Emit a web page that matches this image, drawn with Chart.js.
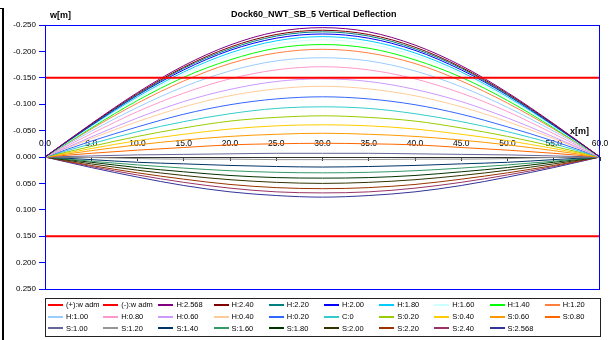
<!DOCTYPE html>
<html>
<head>
<meta charset="utf-8">
<script src="https://cdn.jsdelivr.net/npm/chart.js@4.4.1/dist/chart.umd.min.js"></script>
<style>
    body { margin: 0; background: #fff; }
    #wrap { position: relative; width: 609px; height: 340px; overflow: hidden; font-family: Arial, "Liberation Sans", sans-serif; }
    #frame { position: absolute; left: -10px; top: 8px; width: 12px; height: 340px; border-top: 1px solid #000; border-right: 2px solid #000; }
    .txt { position: absolute; font-weight: bold; font-size: 9px; color: #000; white-space: nowrap; }
    #legend { position: absolute; left: 45px; top: 298px; width: 556px; height: 39px; box-sizing: border-box;
              border: 1px solid #222; padding: 0 0 0 2px; display: grid;
              grid-template-columns: repeat(10, 55.2px); grid-auto-rows: 11.8px; }
    #legend .item { display: flex; align-items: center; font-size: 7.5px; color: #000; white-space: nowrap; }
    #legend .swatch { display: inline-block; width: 15px; height: 2px; margin-right: 3px; }
</style>
</head>
<body>
<div id="wrap">
    <canvas id="deflection-chart" width="609" height="340"></canvas>
    <div id="frame"></div>
    <div class="txt" style="left:231px; top:9px;">Dock60_NWT_SB_5 Vertical Deflection</div>
    <div class="txt" style="left:50px; top:10px;">w[m]</div>
    <div class="txt" style="left:570px; top:126px;">x[m]</div>
    <div id="legend"></div>
</div>
<script>
// Positions along the dock [m]
const xPositions = [0, 5, 10, 15, 20, 25, 30, 35, 40, 45, 50, 55, 60];
const admX = [0, 60];

// Admissible deflection lines
const wAdmPlus = [0.15, 0.15];
const wAdmMinus = [-0.15, -0.15];

// Deflection w[m] per load case (negative = upward in the plot)
const h2568 = [0, -0.063, -0.122, -0.173, -0.212, -0.237, -0.245, -0.237, -0.212, -0.173, -0.122, -0.063, 0];
const h240  = [0, -0.062, -0.120, -0.170, -0.208, -0.232, -0.240, -0.232, -0.208, -0.170, -0.120, -0.062, 0];
const h220  = [0, -0.061, -0.118, -0.168, -0.205, -0.229, -0.237, -0.229, -0.205, -0.168, -0.118, -0.061, 0];
const h200  = [0, -0.060, -0.117, -0.165, -0.202, -0.225, -0.233, -0.225, -0.202, -0.165, -0.117, -0.060, 0];
const h180  = [0, -0.059, -0.114, -0.161, -0.197, -0.220, -0.228, -0.220, -0.197, -0.161, -0.114, -0.059, 0];
const h160  = [0, -0.057, -0.111, -0.157, -0.192, -0.214, -0.222, -0.214, -0.192, -0.157, -0.111, -0.057, 0];
const h140  = [0, -0.055, -0.107, -0.151, -0.184, -0.206, -0.213, -0.206, -0.184, -0.151, -0.107, -0.055, 0];
const h120  = [0, -0.053, -0.102, -0.144, -0.177, -0.197, -0.204, -0.197, -0.177, -0.144, -0.102, -0.053, 0];
const h100  = [0, -0.049, -0.094, -0.133, -0.163, -0.182, -0.188, -0.182, -0.163, -0.133, -0.094, -0.049, 0];
const h080  = [0, -0.044, -0.086, -0.121, -0.148, -0.165, -0.171, -0.165, -0.148, -0.121, -0.086, -0.044, 0];
const h060  = [0, -0.038, -0.074, -0.105, -0.128, -0.143, -0.148, -0.143, -0.128, -0.105, -0.074, -0.038, 0];
const h040  = [0, -0.035, -0.067, -0.095, -0.116, -0.129, -0.134, -0.129, -0.116, -0.095, -0.067, -0.035, 0];
const h020  = [0, -0.030, -0.057, -0.081, -0.099, -0.110, -0.114, -0.110, -0.099, -0.081, -0.057, -0.030, 0];
const c0    = [0, -0.025, -0.048, -0.067, -0.082, -0.092, -0.095, -0.092, -0.082, -0.067, -0.048, -0.025, 0];
const s020  = [0, -0.020, -0.039, -0.055, -0.068, -0.075, -0.078, -0.075, -0.068, -0.055, -0.039, -0.020, 0];
const s040  = [0, -0.016, -0.031, -0.043, -0.053, -0.059, -0.061, -0.059, -0.053, -0.043, -0.031, -0.016, 0];
const s060  = [0, -0.012, -0.023, -0.032, -0.039, -0.043, -0.045, -0.043, -0.039, -0.032, -0.023, -0.012, 0];
const s080  = [0, -0.007, -0.013, -0.018, -0.023, -0.025, -0.026, -0.025, -0.023, -0.018, -0.013, -0.007, 0];
const s100  = [0, -0.002, -0.004, -0.005, -0.006, -0.007, -0.007, -0.007, -0.006, -0.005, -0.004, -0.002, 0];
const s120  = [0, 0.001, 0.003, 0.004, 0.004, 0.005, 0.005, 0.005, 0.004, 0.004, 0.003, 0.001, 0];
const s140  = [0, 0.005, 0.010, 0.013, 0.016, 0.018, 0.019, 0.018, 0.016, 0.013, 0.010, 0.005, 0];
const s160  = [0, 0.008, 0.015, 0.021, 0.026, 0.029, 0.030, 0.029, 0.026, 0.021, 0.015, 0.008, 0];
const s180  = [0, 0.010, 0.020, 0.028, 0.035, 0.039, 0.040, 0.039, 0.035, 0.028, 0.020, 0.010, 0];
const s200  = [0, 0.013, 0.025, 0.035, 0.043, 0.048, 0.050, 0.048, 0.043, 0.035, 0.025, 0.013, 0];
const s220  = [0, 0.016, 0.030, 0.042, 0.052, 0.058, 0.060, 0.058, 0.052, 0.042, 0.030, 0.016, 0];
const s240  = [0, 0.018, 0.034, 0.048, 0.059, 0.066, 0.068, 0.066, 0.059, 0.048, 0.034, 0.018, 0];
const s2568 = [0, 0.020, 0.038, 0.054, 0.066, 0.073, 0.076, 0.073, 0.066, 0.054, 0.038, 0.020, 0];

const seriesLabels = ['H:2.568', 'H:2.40', 'H:2.20', 'H:2.00', 'H:1.80', 'H:1.60', 'H:1.40', 'H:1.20',
    'H:1.00', 'H:0.80', 'H:0.60', 'H:0.40', 'H:0.20', 'C:0', 'S:0.20', 'S:0.40', 'S:0.60', 'S:0.80',
    'S:1.00', 'S:1.20', 'S:1.40', 'S:1.60', 'S:1.80', 'S:2.00', 'S:2.20', 'S:2.40', 'S:2.568'];
const seriesValues = [h2568, h240, h220, h200, h180, h160, h140, h120, h100, h080, h060, h040, h020,
    c0, s020, s040, s060, s080, s100, s120, s140, s160, s180, s200, s220, s240, s2568];
const lineColors = ['#800080', '#800000', '#008080', '#0000FF', '#00CCFF', '#CCFFFF', '#00FF00', '#FF7F3F',
    '#99CCFF', '#FF99CC', '#CC99FF', '#FFCC99', '#3366FF', '#33CCCC', '#99CC00', '#FFCC00', '#FF9900', '#FF6600',
    '#666699', '#969696', '#003366', '#339966', '#003300', '#333300', '#993300', '#993366', '#333399'];

const toPoints = (xs, ys) => xs.map((x, i) => ({ x: x, y: ys[i] }));

// Build datasets
const datasets = [
    { label: '(+):w adm', data: toPoints(admX, wAdmPlus), borderColor: '#FF0000', borderWidth: 2 },
    { label: '(-):w adm', data: toPoints(admX, wAdmMinus), borderColor: '#FF0000', borderWidth: 2 }
];
seriesLabels.forEach((label, i) => {
    datasets.push({
        label: label,
        data: toPoints(xPositions, seriesValues[i]),
        borderColor: lineColors[i],
        borderWidth: 1,
        cubicInterpolationMode: 'monotone'
    });
});

// Blue frame round the plot area
const plotFrame = {
    id: 'plotFrame',
    afterDatasetsDraw(chart) {
        const { ctx, chartArea: a } = chart;
        ctx.save();
        ctx.strokeStyle = '#0000FF';
        ctx.lineWidth = 1;
        ctx.strokeRect(a.left + 0.5, a.top + 0.5, a.right - a.left - 1, a.bottom - a.top);
        ctx.restore();
    }
};

const chart = new Chart(document.getElementById('deflection-chart'), {
    type: 'line',
    data: { datasets: datasets },
    options: {
        responsive: false,
        animation: false,
        layout: { padding: { top: 25, bottom: 51, left: 0, right: 9 } },
        elements: { point: { radius: 0 } },
        plugins: { legend: { display: false }, title: { display: false }, tooltip: { enabled: false } },
        scales: {
            x: {
                type: 'linear',
                position: { y: 0 },
                min: 0,
                max: 60,
                grid: { drawOnChartArea: false, tickLength: 3, color: '#333' },
                border: { display: true, color: '#333', width: 1 },
                ticks: {
                    stepSize: 5,
                    padding: -21,
                    color: '#000',
                    font: { family: 'Arial, "Liberation Sans"', size: 8.5 },
                    maxRotation: 0,
                    autoSkip: false,
                    callback: v => v.toFixed(1)
                }
            },
            y: {
                reverse: true,
                min: -0.25,
                max: 0.25,
                afterFit(scale) { scale.width = 45; },
                grid: { drawOnChartArea: false, tickLength: 6, color: '#0000FF' },
                border: { display: true, color: '#0000FF', width: 1 },
                ticks: {
                    stepSize: 0.05,
                    padding: 3,
                    color: '#000',
                    font: { family: 'Arial, "Liberation Sans"', size: 8 },
                    callback: v => v.toFixed(3)
                }
            }
        }
    },
    plugins: [plotFrame]
});

// HTML legend laid out as a grid like the original
const legendBox = document.getElementById('legend');
chart.data.datasets.forEach(ds => {
    const item = document.createElement('div');
    item.className = 'item';
    item.innerHTML = `<span class="swatch" style="background:${ds.borderColor}"></span>${ds.label}`;
    legendBox.appendChild(item);
});
</script>
</body>
</html>
